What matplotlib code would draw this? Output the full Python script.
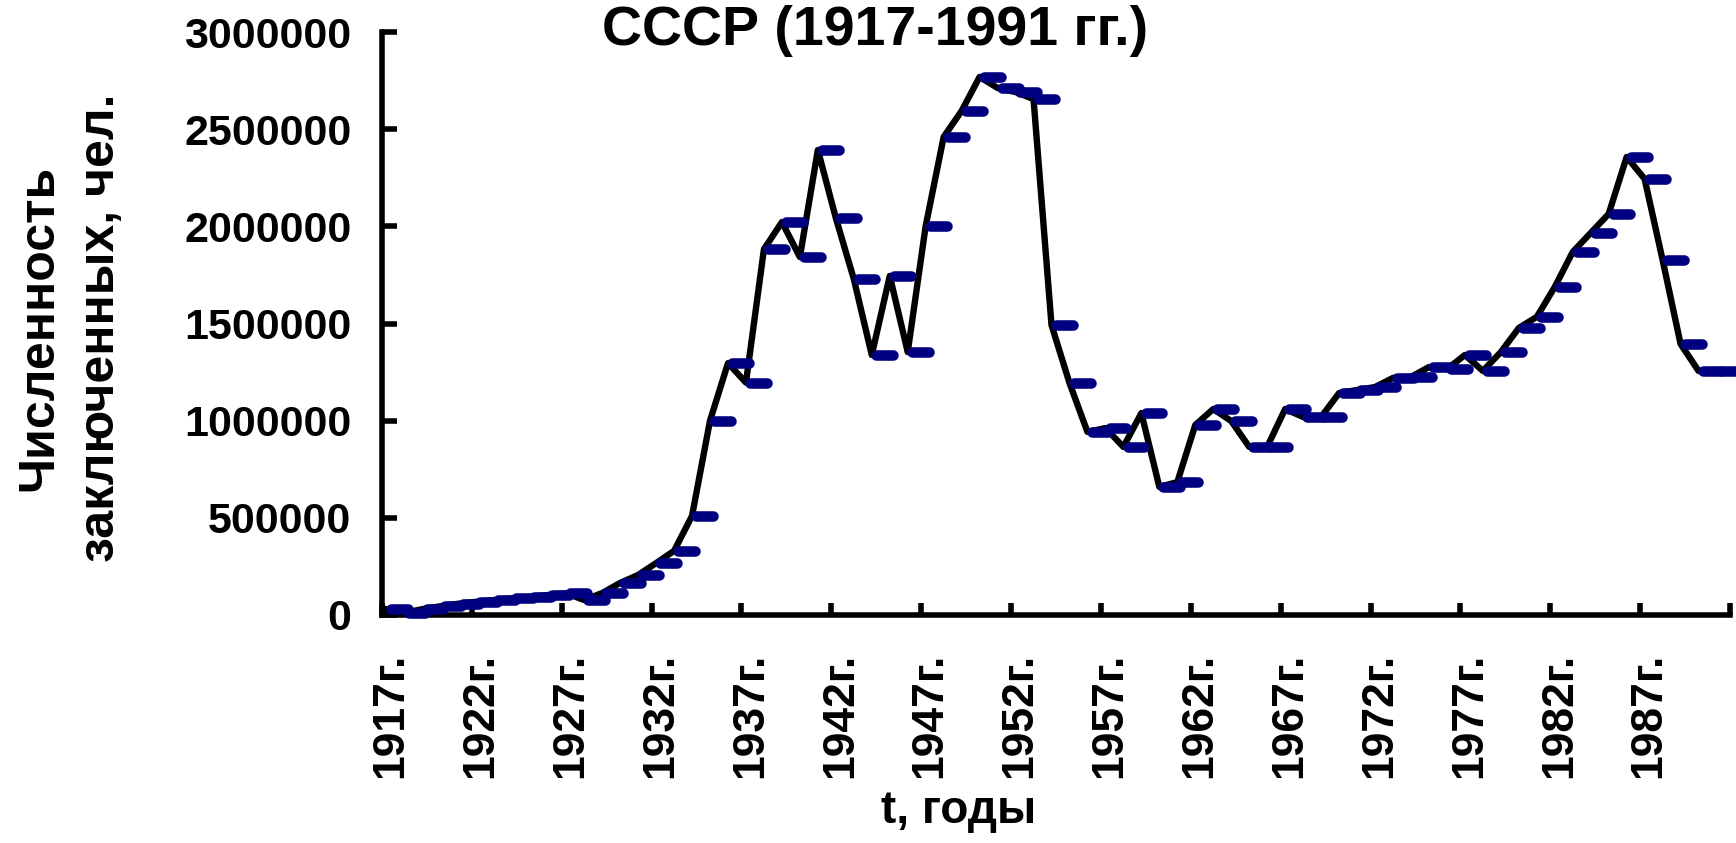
import matplotlib
matplotlib.use('Agg')
import matplotlib.pyplot as plt
import numpy as np

# численность заключённых по годам, 1917-1991
years = list(range(1917, 1992))
prisoners = [
    30000, 12000, 30000, 45000, 58000, 68000, 77000, 86000, 94000, 103000,   # 1917-1926
    112000, 77000, 113000, 165000, 206000, 267000, 330000, 510000, 1000000,  # 1927-1935
    1296000, 1196000, 1882000, 2022000, 1842000, 2393000, 2043000, 1729000,  # 1936-1943
    1338000, 1745000, 1353000, 2002000, 2460000, 2594000, 2769000, 2712000,  # 1944-1951
    2691000, 2655000, 1492000, 1194000, 942000, 962000, 865000, 1039000,     # 1952-1959
    659000, 684000, 978000, 1060000, 998000, 865000, 865000, 1060000,        # 1960-1967
    1019000, 1019000, 1142000, 1158000, 1173000, 1220000, 1225000, 1276000,  # 1968-1975
    1265000, 1338000, 1256000, 1353000, 1477000, 1534000, 1688000, 1868000,  # 1976-1983
    1966000, 2064000, 2357000, 2244000, 1827000, 1395000, 1256000, 1256000,  # 1984-1991
]
label_years = years[::5]
y_ticks = [0, 500000, 1000000, 1500000, 2000000, 2500000, 3000000]

plt.rcParams['font.family'] = ['Liberation Sans', 'DejaVu Sans']
plt.rcParams['font.weight'] = 'bold'

W, H = 1736, 843
fig = plt.figure(figsize=(W / 100, H / 100), dpi=100)
ax = fig.add_axes([382 / W, 1 - 615 / H, (1730 - 382) / W, (615 - 32) / H])

x = np.arange(len(years))
ax.plot(x - 0.25, prisoners, color='black', lw=4.6, zorder=2, clip_on=False)
ax.hlines(prisoners, x - 0.02, x + 0.92, colors='#000080', lw=7.6,
          capstyle='round', zorder=3, clip_on=False)

ax.set_xlim(-0.5, len(years) - 0.5)
ax.set_ylim(0, 3000000)

for side in ['top', 'right']:
    ax.spines[side].set_visible(False)
for side in ['left', 'bottom']:
    ax.spines[side].set_linewidth(4)

ax.set_yticks(y_ticks)
ax.set_yticklabels([str(v) for v in y_ticks])
ax.tick_params(axis='y', direction='in', length=11, width=4, pad=22, labelsize=31)

ax.set_xticks(x[::5])
ax.set_xticklabels([f'{y}г.' for y in label_years], rotation=90)
ax.tick_params(axis='x', which='major', length=0, pad=27, labelsize=32)
ax.set_xticks(np.arange(-0.5, len(years), 5), minor=True)
ax.tick_params(axis='x', which='minor', direction='in', length=9, width=4)

fig.text(0.504, 0.947, 'СССР (1917-1991 гг.)', ha='center', va='baseline',
         fontsize=40, weight='bold')
fig.text(70 / W, 0.611, 'Численность\nзаключенных, чел.', rotation=90,
         ha='center', va='center', fontsize=36, linespacing=1.45,
         multialignment='center')
fig.text(0.552, 0.024, 't, годы', ha='center', va='baseline', fontsize=33)

fig.savefig('out.png', dpi=100)
